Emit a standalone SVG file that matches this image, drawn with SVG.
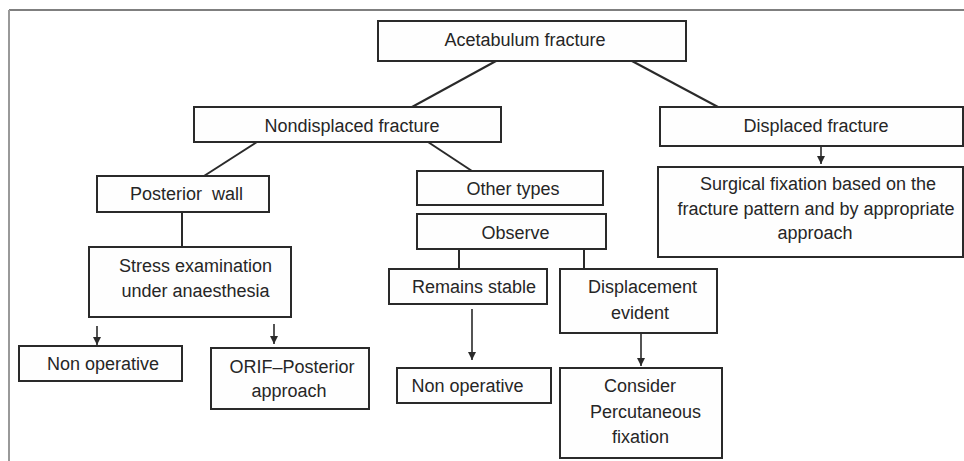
<svg xmlns="http://www.w3.org/2000/svg" width="964" height="461" viewBox="0 0 964 461">
<style>
.box{fill:#fefefe;stroke:#2a2a2a;stroke-width:2}
.t{font-family:"Liberation Sans",Arial,sans-serif;font-size:18px;fill:#262626;text-anchor:middle}
.ln{stroke:#2a2a2a;stroke-width:2;fill:none}
.ar{stroke:#2a2a2a;stroke-width:1.6;fill:none;marker-end:url(#ah)}
</style>
<defs>
<marker id="ah" markerUnits="userSpaceOnUse" markerWidth="10" markerHeight="10" refX="8" refY="4" orient="auto">
<path d="M0,0 L8,4 L0,8 Z" fill="#2a2a2a"/>
</marker>
</defs>
<rect width="964" height="461" fill="#ffffff"/>
<g id="frame">
<line x1="9" y1="10" x2="964" y2="10" stroke="#555" stroke-width="1.5"/>
<line x1="9" y1="10" x2="9" y2="461" stroke="#999" stroke-width="2"/>
</g>
<g id="connectors">
<line class="ln" x1="496" y1="61" x2="412" y2="107"/>
<line class="ln" x1="632" y1="61" x2="718" y2="107"/>
<line class="ln" x1="257" y1="142" x2="204" y2="176"/>
<line class="ln" x1="428" y1="142" x2="472" y2="171"/>
<line class="ln" x1="182" y1="212" x2="182" y2="247"/>
<line class="ln" x1="459" y1="249" x2="459" y2="269"/>
<line class="ln" x1="584" y1="249" x2="584" y2="269"/>
<line class="ar" x1="821" y1="146" x2="821" y2="164"/>
<line class="ar" x1="97" y1="326" x2="97" y2="345"/>
<line class="ar" x1="274" y1="324" x2="274" y2="344"/>
<line class="ar" x1="472" y1="309" x2="472" y2="360"/>
<line class="ar" x1="641" y1="333" x2="641" y2="366"/>
</g>
<g id="acetabulum">
<rect class="box" x="378" y="21" width="308" height="40"/>
<text class="t" x="525" y="46">Acetabulum fracture</text>
</g>
<g id="nondisplaced">
<rect class="box" x="194" y="107" width="307" height="35"/>
<text class="t" x="352" y="132">Nondisplaced fracture</text>
</g>
<g id="displaced">
<rect class="box" x="660" y="107" width="303" height="39"/>
<text class="t" x="816" y="132">Displaced fracture</text>
</g>
<g id="surgical">
<rect class="box" x="658" y="167" width="305" height="90"/>
<text class="t" x="818" y="190">Surgical fixation based on the</text>
<text class="t" x="816" y="215">fracture pattern and by appropriate</text>
<text class="t" x="815" y="239">approach</text>
</g>
<g id="posterior-wall">
<rect class="box" x="97" y="176" width="172" height="36"/>
<text class="t" x="186.5" y="200" xml:space="preserve">Posterior  wall</text>
</g>
<g id="stress">
<rect class="box" x="89" y="247" width="202" height="70"/>
<text class="t" x="195.5" y="272">Stress examination</text>
<text class="t" x="195.5" y="297">under anaesthesia</text>
</g>
<g id="nonop-left">
<rect class="box" x="19" y="346" width="163" height="35"/>
<text class="t" x="103" y="370">Non operative</text>
</g>
<g id="orif">
<rect class="box" x="211" y="348" width="158" height="61"/>
<text class="t" x="292" y="373">ORIF–Posterior</text>
<text class="t" x="289" y="397">approach</text>
</g>
<g id="other-types">
<rect class="box" x="417" y="171" width="186" height="34"/>
<text class="t" x="513" y="195">Other types</text>
</g>
<g id="observe">
<rect class="box" x="417" y="214" width="189" height="35"/>
<text class="t" x="515.5" y="239">Observe</text>
</g>
<g id="remains-stable">
<rect class="box" x="389" y="269" width="158" height="35"/>
<text class="t" x="474" y="293">Remains stable</text>
</g>
<g id="displacement">
<rect class="box" x="560" y="269" width="157" height="64"/>
<text class="t" x="642.5" y="293">Displacement</text>
<text class="t" x="640" y="319">evident</text>
</g>
<g id="nonop-mid">
<rect class="box" x="397" y="368" width="154" height="35"/>
<text class="t" x="467.5" y="392">Non operative</text>
</g>
<g id="consider">
<rect class="box" x="560" y="368" width="162" height="90"/>
<text class="t" x="640" y="392">Consider</text>
<text class="t" x="645.5" y="418">Percutaneous</text>
<text class="t" x="640.5" y="443">fixation</text>
</g>
</svg>
